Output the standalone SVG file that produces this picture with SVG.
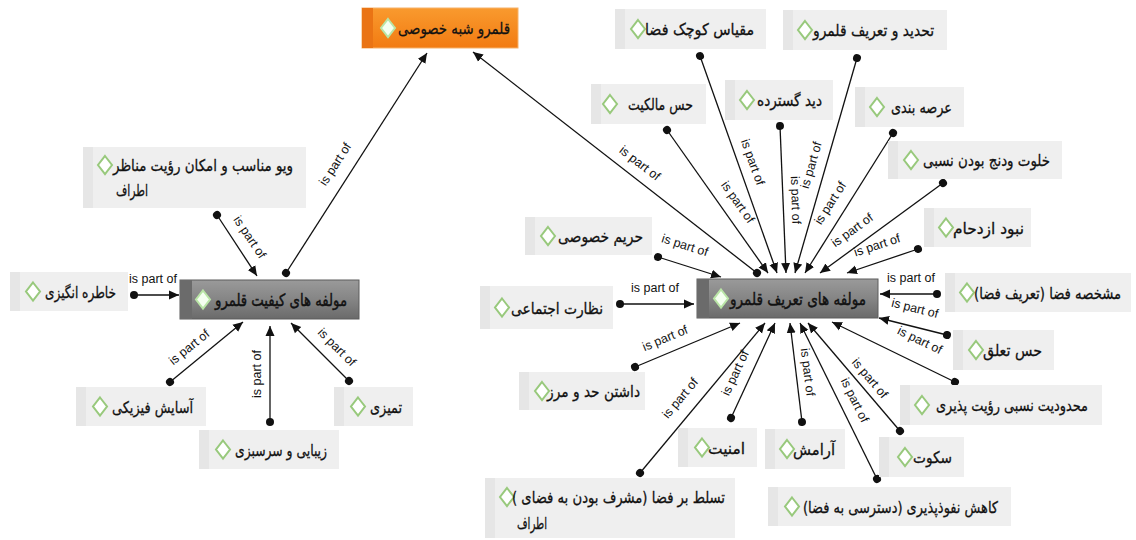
<svg xmlns="http://www.w3.org/2000/svg" width="1136" height="540" viewBox="0 0 1136 540">
<defs>
<style>
.box{fill:#efefef}
.strip{fill:#e6e6e6}
.fa{font-family:"DejaVu Sans","Noto Sans",sans-serif;font-size:16px;fill:#111;stroke:#111;stroke-width:0.3;direction:rtl;unicode-bidi:embed}
.hubt{font-family:"DejaVu Sans","Noto Sans",sans-serif;font-size:17px;fill:#111;stroke:#111;stroke-width:0.45;direction:rtl;unicode-bidi:embed}
.dia{fill:#fff;stroke:#98c97c;stroke-width:2}
.hdia{fill:#f4fff0;stroke:#b9e5a6;stroke-width:2}
.lbl{font-family:"Liberation Sans","Open Sans",sans-serif;font-size:12.5px;fill:#111;text-anchor:middle}
.c line{stroke:#111;stroke-width:1.3;marker-start:url(#dot);marker-end:url(#arr)}
</style>
<marker id="arr" markerUnits="userSpaceOnUse" markerWidth="11" markerHeight="10" refX="10" refY="5" orient="auto">
<path d="M0,0.5 L10,5 L0,9.5 z" fill="#111"/>
</marker>
<marker id="dot" markerUnits="userSpaceOnUse" markerWidth="10" markerHeight="10" refX="5" refY="5" orient="auto">
<circle cx="5" cy="5" r="4" fill="#111"/>
</marker>
<linearGradient id="hubg" x1="0" y1="0" x2="0" y2="1">
<stop offset="0" stop-color="#9a9a9a"/>
<stop offset="0.5" stop-color="#858585"/>
<stop offset="1" stop-color="#6a6a6a"/>
</linearGradient>
<linearGradient id="orng" x1="0" y1="0" x2="0" y2="1">
<stop offset="0" stop-color="#f99a2e"/>
<stop offset="1" stop-color="#f27b12"/>
</linearGradient>
<path id="dm" d="M0,-9 L7,0 L0,9 L-7,0 z"/>
</defs>
<rect width="1136" height="540" fill="#fff"/>

<g id="connectors" class="c">
<line x1="286" y1="273" x2="427" y2="53"/>
<line x1="757" y1="273" x2="473" y2="52"/>
<line x1="217" y1="215" x2="257" y2="276"/>
<line x1="134" y1="295" x2="179" y2="295"/>
<line x1="170" y1="382" x2="243" y2="322"/>
<line x1="270" y1="422" x2="270" y2="326"/>
<line x1="349" y1="381" x2="291" y2="323"/>
<line x1="667" y1="130" x2="768" y2="273"/>
<line x1="700" y1="56" x2="777" y2="273"/>
<line x1="780" y1="126" x2="786" y2="273"/>
<line x1="857" y1="58" x2="795" y2="273"/>
<line x1="893" y1="133" x2="805" y2="273"/>
<line x1="943" y1="183" x2="820" y2="273"/>
<line x1="918" y1="249" x2="847" y2="273"/>
<line x1="658" y1="257" x2="721" y2="277"/>
<line x1="620" y1="304" x2="694" y2="304"/>
<line x1="937" y1="294" x2="880" y2="294"/>
<line x1="947" y1="335" x2="879" y2="318"/>
<line x1="955" y1="382" x2="832" y2="322"/>
<line x1="900" y1="431" x2="808" y2="323"/>
<line x1="877" y1="479" x2="800" y2="323"/>
<line x1="802" y1="422" x2="790" y2="323"/>
<line x1="731" y1="418" x2="775" y2="323"/>
<line x1="640" y1="473" x2="765" y2="323"/>
<line x1="635" y1="367" x2="740" y2="323"/>
</g>

<g id="labels">
<text class="lbl" transform="translate(335,164) rotate(-57)" dy="0.35em">is part of</text>
<text class="lbl" transform="translate(250,237) rotate(56)" dy="0.35em">is part of</text>
<text class="lbl" transform="translate(153,279)" dy="0.35em">is part of</text>
<text class="lbl" transform="translate(189,347) rotate(-39)" dy="0.35em">is part of</text>
<text class="lbl" transform="translate(257,374) rotate(-90)" dy="0.35em">is part of</text>
<text class="lbl" transform="translate(337,347) rotate(45)" dy="0.35em">is part of</text>
<text class="lbl" transform="translate(640,163) rotate(37.8)" dy="0.35em">is part of</text>
<text class="lbl" transform="translate(738,202) rotate(54.6)" dy="0.35em">is part of</text>
<text class="lbl" transform="translate(753,162) rotate(70.4)" dy="0.35em">is part of</text>
<text class="lbl" transform="translate(796,200) rotate(88)" dy="0.35em">is part of</text>
<text class="lbl" transform="translate(811,165) rotate(-74)" dy="0.35em">is part of</text>
<text class="lbl" transform="translate(830,203) rotate(-57.7)" dy="0.35em">is part of</text>
<text class="lbl" transform="translate(852,230) rotate(-35.9)" dy="0.35em">is part of</text>
<text class="lbl" transform="translate(877,245) rotate(-18)" dy="0.35em">is part of</text>
<text class="lbl" transform="translate(911,278)" dy="0.35em">is part of</text>
<text class="lbl" transform="translate(915,308) rotate(14)" dy="0.35em">is part of</text>
<text class="lbl" transform="translate(920,340) rotate(25.6)" dy="0.35em">is part of</text>
<text class="lbl" transform="translate(870,378) rotate(49.6)" dy="0.35em">is part of</text>
<text class="lbl" transform="translate(855,400) rotate(63.7)" dy="0.35em">is part of</text>
<text class="lbl" transform="translate(808,372) rotate(83)" dy="0.35em">is part of</text>
<text class="lbl" transform="translate(735,373) rotate(-65)" dy="0.35em">is part of</text>
<text class="lbl" transform="translate(680,398) rotate(-50)" dy="0.35em">is part of</text>
<text class="lbl" transform="translate(665,338) rotate(-22.7)" dy="0.35em">is part of</text>
<text class="lbl" transform="translate(655,288)" dy="0.35em">is part of</text>
<text class="lbl" transform="translate(685,245) rotate(17.6)" dy="0.35em">is part of</text>
</g>

<g id="n-top">
<rect x="362" y="8" width="156" height="40" fill="url(#orng)" stroke="#f6b26b" stroke-width="1"/>
<rect x="362" y="8" width="11" height="40" fill="#ea7414"/>
<use href="#dm" x="388" y="28" class="hdia"/>
<text class="fa" x="510" y="34" textLength="112" lengthAdjust="spacingAndGlyphs">قلمرو شبه خصوصی</text>
</g>

<g id="n-hub-left">
<rect x="180" y="280" width="179" height="39" fill="url(#hubg)" stroke="#5c5c5c" stroke-width="1"/>
<rect x="180" y="280" width="12" height="39" fill="#6b6b6b"/>
<use href="#dm" x="203" y="299.5" class="hdia"/>
<text class="hubt" x="347" y="306" textLength="132" lengthAdjust="spacingAndGlyphs">مولفه های کیفیت قلمرو</text>
</g>

<g id="n-hub-right">
<rect x="697" y="279" width="181" height="39" fill="url(#hubg)" stroke="#5c5c5c" stroke-width="1"/>
<rect x="697" y="279" width="12" height="39" fill="#6b6b6b"/>
<use href="#dm" x="721" y="298.5" class="hdia"/>
<text class="hubt" x="866" y="305" textLength="136" lengthAdjust="spacingAndGlyphs">مولفه های تعریف قلمرو</text>
</g>

<g id="n-view">
<rect class="box" x="83" y="147" width="223" height="61"/>
<rect class="strip" x="83" y="147" width="10" height="61"/>
<use href="#dm" x="105" y="165" class="dia"/>
<text class="fa" x="293" y="171" textLength="180" lengthAdjust="spacingAndGlyphs">ویو مناسب و امکان رؤیت مناظر</text>
<text class="fa" x="148" y="196" textLength="32" lengthAdjust="spacingAndGlyphs">اطراف</text>
</g>

<g id="n-memory">
<rect class="box" x="10" y="272" width="118" height="39"/>
<rect class="strip" x="10" y="272" width="10" height="39"/>
<use href="#dm" x="33" y="291.5" class="dia"/>
<text class="fa" x="116" y="298" textLength="71" lengthAdjust="spacingAndGlyphs">خاطره انگیزی</text>
</g>

<g id="n-comfort">
<rect class="box" x="76" y="387" width="130" height="39"/>
<rect class="strip" x="76" y="387" width="10" height="39"/>
<use href="#dm" x="100" y="406.5" class="dia"/>
<text class="fa" x="193" y="413" textLength="81" lengthAdjust="spacingAndGlyphs">آسایش فیزیکی</text>
</g>

<g id="n-beauty">
<rect class="box" x="199" y="430" width="140" height="39"/>
<rect class="strip" x="199" y="430" width="10" height="39"/>
<use href="#dm" x="223" y="449.5" class="dia"/>
<text class="fa" x="327" y="456" textLength="92" lengthAdjust="spacingAndGlyphs">زیبایی و سرسبزی</text>
</g>

<g id="n-clean">
<rect class="box" x="334" y="387" width="79" height="39"/>
<rect class="strip" x="334" y="387" width="10" height="39"/>
<use href="#dm" x="358" y="406.5" class="dia"/>
<text class="fa" x="402" y="413" textLength="32" lengthAdjust="spacingAndGlyphs">تمیزی</text>
</g>

<g id="n-scale">
<rect class="box" x="615" y="9" width="151" height="40"/>
<rect class="strip" x="615" y="9" width="10" height="40"/>
<use href="#dm" x="638" y="29" class="dia"/>
<text class="fa" x="754" y="35" textLength="109" lengthAdjust="spacingAndGlyphs">مقیاس کوچک فضا</text>
</g>

<g id="n-define">
<rect class="box" x="783" y="10" width="164" height="40"/>
<rect class="strip" x="783" y="10" width="10" height="40"/>
<use href="#dm" x="805" y="30" class="dia"/>
<text class="fa" x="934" y="36" textLength="121" lengthAdjust="spacingAndGlyphs">تحدید و تعریف قلمرو</text>
</g>

<g id="n-owner">
<rect class="box" x="591" y="84" width="115" height="40"/>
<rect class="strip" x="591" y="84" width="10" height="40"/>
<use href="#dm" x="610" y="104" class="dia"/>
<text class="fa" x="693" y="110" textLength="65" lengthAdjust="spacingAndGlyphs">حس مالکیت</text>
</g>

<g id="n-wideview">
<rect class="box" x="725" y="80" width="108" height="40"/>
<rect class="strip" x="725" y="80" width="10" height="40"/>
<use href="#dm" x="747" y="100" class="dia"/>
<text class="fa" x="822" y="106" textLength="65" lengthAdjust="spacingAndGlyphs">دید گسترده</text>
</g>

<g id="n-zoning">
<rect class="box" x="855" y="87" width="109" height="40"/>
<rect class="strip" x="855" y="87" width="10" height="40"/>
<use href="#dm" x="877" y="107" class="dia"/>
<text class="fa" x="952" y="113" textLength="61" lengthAdjust="spacingAndGlyphs">عرصه بندی</text>
</g>

<g id="n-quiet-nook">
<rect class="box" x="888" y="141" width="174" height="38"/>
<rect class="strip" x="888" y="141" width="10" height="38"/>
<use href="#dm" x="911" y="160" class="dia"/>
<text class="fa" x="1050" y="166" textLength="127" lengthAdjust="spacingAndGlyphs">خلوت ودنج بودن نسبی</text>
</g>

<g id="n-crowd">
<rect class="box" x="924" y="208" width="107" height="39"/>
<rect class="strip" x="924" y="208" width="10" height="39"/>
<use href="#dm" x="946" y="227.5" class="dia"/>
<text class="fa" x="1024" y="234" textLength="71" lengthAdjust="spacingAndGlyphs">نبود ازدحام</text>
</g>

<g id="n-identity">
<rect class="box" x="945" y="273" width="186" height="39"/>
<rect class="strip" x="945" y="273" width="10" height="39"/>
<use href="#dm" x="967" y="292.5" class="dia"/>
<text class="fa" x="1121" y="299" textLength="147" lengthAdjust="spacingAndGlyphs">مشخصه فضا (تعریف فضا)</text>
</g>

<g id="n-belong">
<rect class="box" x="953" y="330" width="101" height="40"/>
<rect class="strip" x="953" y="330" width="10" height="40"/>
<use href="#dm" x="976" y="350" class="dia"/>
<text class="fa" x="1042" y="356" textLength="59" lengthAdjust="spacingAndGlyphs">حس تعلق</text>
</g>

<g id="n-visibility">
<rect class="box" x="900" y="385" width="202" height="40"/>
<rect class="strip" x="900" y="385" width="10" height="40"/>
<use href="#dm" x="922" y="405" class="dia"/>
<text class="fa" x="1088" y="411" textLength="152" lengthAdjust="spacingAndGlyphs">محدودیت نسبی رؤیت پذیری</text>
</g>

<g id="n-silence">
<rect class="box" x="879" y="437" width="85" height="40"/>
<rect class="strip" x="879" y="437" width="10" height="40"/>
<use href="#dm" x="905" y="457" class="dia"/>
<text class="fa" x="952" y="463" textLength="39" lengthAdjust="spacingAndGlyphs">سکوت</text>
</g>

<g id="n-permeability">
<rect class="box" x="768" y="487" width="243" height="39"/>
<rect class="strip" x="768" y="487" width="10" height="39"/>
<use href="#dm" x="792" y="506.5" class="dia"/>
<text class="fa" x="998" y="513" textLength="195" lengthAdjust="spacingAndGlyphs">کاهش نفوذپذیری (دسترسی به فضا)</text>
</g>

<g id="n-calm">
<rect class="box" x="765" y="429" width="80" height="40"/>
<rect class="strip" x="765" y="429" width="10" height="40"/>
<use href="#dm" x="787" y="449" class="dia"/>
<text class="fa" x="835" y="455" textLength="42" lengthAdjust="spacingAndGlyphs">آرامش</text>
</g>

<g id="n-security">
<rect class="box" x="678" y="428" width="79" height="39"/>
<rect class="strip" x="678" y="428" width="10" height="39"/>
<use href="#dm" x="702" y="447.5" class="dia"/>
<text class="fa" x="745" y="454" textLength="37" lengthAdjust="spacingAndGlyphs">امنیت</text>
</g>

<g id="n-dominance">
<rect class="box" x="485" y="478" width="250" height="60"/>
<rect class="strip" x="485" y="478" width="10" height="60"/>
<use href="#dm" x="507" y="497" class="dia"/>
<text class="fa" x="725" y="503" textLength="213" lengthAdjust="spacingAndGlyphs">تسلط بر فضا (مشرف بودن به فضای )</text>
<text class="fa" x="547" y="529" textLength="30" lengthAdjust="spacingAndGlyphs">اطراف</text>
</g>

<g id="n-boundary">
<rect class="box" x="519" y="372" width="126" height="38"/>
<rect class="strip" x="519" y="372" width="10" height="38"/>
<use href="#dm" x="542" y="391" class="dia"/>
<text class="fa" x="640" y="397" textLength="93" lengthAdjust="spacingAndGlyphs">داشتن حد و مرز</text>
</g>

<g id="n-surveillance">
<rect class="box" x="480" y="286" width="133" height="43"/>
<rect class="strip" x="480" y="286" width="10" height="43"/>
<use href="#dm" x="502" y="307.5" class="dia"/>
<text class="fa" x="603" y="314" textLength="92" lengthAdjust="spacingAndGlyphs">نظارت اجتماعی</text>
</g>

<g id="n-privacy">
<rect class="box" x="525" y="217" width="127" height="38"/>
<rect class="strip" x="525" y="217" width="10" height="38"/>
<use href="#dm" x="548" y="236" class="dia"/>
<text class="fa" x="643" y="242" textLength="85" lengthAdjust="spacingAndGlyphs">حریم خصوصی</text>
</g>
</svg>
